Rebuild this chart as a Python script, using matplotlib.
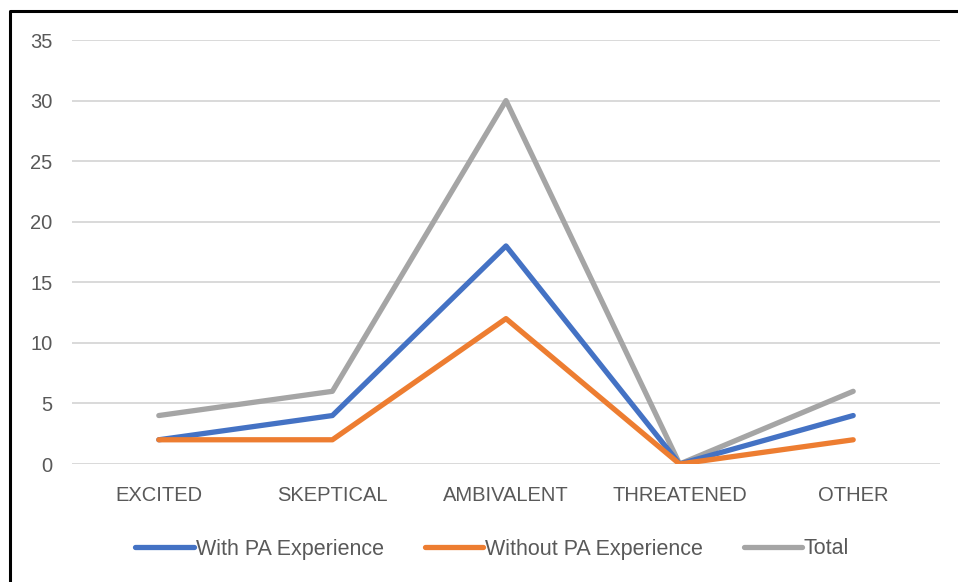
import numpy as np
import matplotlib.pyplot as plt
from matplotlib.lines import Line2D

plt.rcParams['font.family'] = ['Liberation Sans', 'DejaVu Sans']

categories = ['EXCITED', 'SKEPTICAL', 'AMBIVALENT', 'THREATENED', 'OTHER']
with_pa = [2, 4, 18, 0, 4]
without_pa = [2, 2, 12, 0, 2]
total = [4, 6, 30, 0, 6]

W, H = 958, 582
fig = plt.figure(figsize=(W / 100, H / 100), dpi=100)
ax = fig.add_axes([72 / W, (H - 464) / H, (940 - 72) / W, (464 - 40) / H])

x = np.arange(len(categories))
text_color = '#595959'
lw = 3.8

ax.plot(x, with_pa, color='#4472C4', lw=lw, solid_capstyle='round', solid_joinstyle='round',
        label='With PA Experience', zorder=3)
ax.plot(x, without_pa, color='#ED7D31', lw=lw, solid_capstyle='round', solid_joinstyle='round',
        label='Without PA Experience', zorder=4)
ax.plot(x, total, color='#A5A5A5', lw=lw, solid_capstyle='round', solid_joinstyle='round',
        label='Total', zorder=2)

ax.set_xlim(-0.5, len(categories) - 0.5)
ax.set_ylim(0, 35)
ax.set_yticks(np.arange(0, 36, 5))
ax.set_xticks(x)
ax.set_xticklabels(categories)

ax.grid(True, axis='y', color='#D9D9D9', lw=1.4)
ax.set_axisbelow(True)
for s in ax.spines.values():
    s.set_visible(False)
ax.tick_params(axis='both', length=0, labelsize=14.5, labelcolor=text_color)
ax.tick_params(axis='y', pad=14)
ax.tick_params(axis='x', pad=16)

fig.legend(loc='center', bbox_to_anchor=(0.514, 1 - 549 / H), ncol=3, frameon=False,
           fontsize=15.5, labelcolor=text_color, handlelength=2.7, handletextpad=0.1,
           columnspacing=1.9)

# frame around the chart (left and top edges only)
fig.add_artist(Line2D([10 / W, 10 / W, 1.0], [0.0, 1 - 11 / H, 1 - 11 / H],
                      transform=fig.transFigure, color='black', lw=2.2))

fig.savefig('out.png', dpi=100)
